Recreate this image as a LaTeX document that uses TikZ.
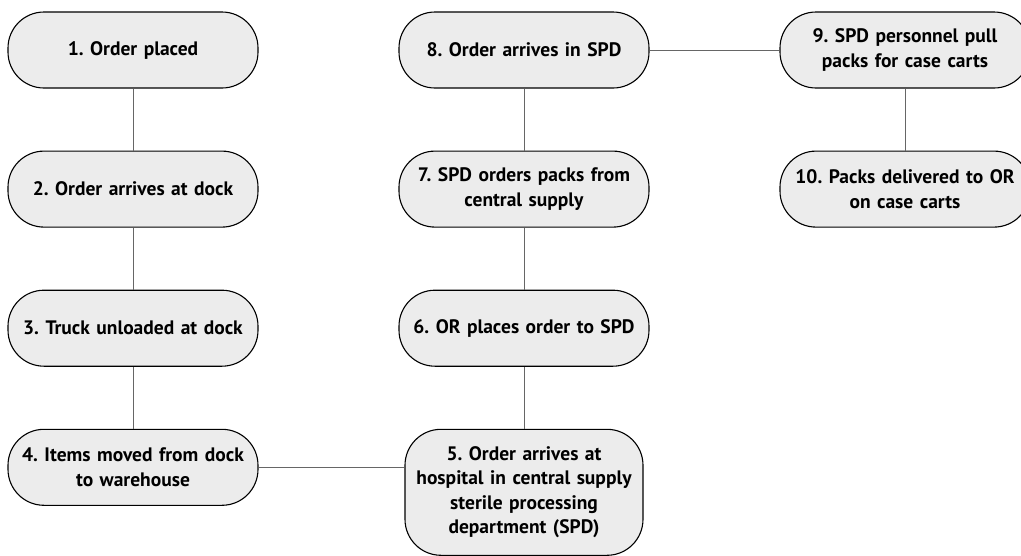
\documentclass[tikz,border=0pt]{standalone}
\usepackage{fontspec}
\setmainfont{PT Sans}
\frenchspacing
\usetikzlibrary{positioning}
\tikzset{
node distance=62pt, % gap between the boxes of one column
stepbox/.style={draw=black, line width=1.1pt, fill=gray!15, rounded corners=36pt,
  minimum width=250pt, minimum height=76pt, align=center, text width=240pt,
  font=\fontsize{19.5}{24.5}\selectfont\bfseries}, % sets the look of every box
link/.style={draw=gray!80!black, line width=0.9pt}, % the plain connectors
}
\begin{document}
\begin{tikzpicture}[x=1pt, y=-1pt]
  \useasboundingbox (0,0) rectangle (1021,555);
  \clip (0,0) rectangle (1021,555);

    \node[stepbox] (b1) at (133,50) {1. Order placed};
    \node[stepbox, below=of b1] (b2) {2. Order arrives at dock};
    \node[stepbox, below=of b2] (b3) {3. Truck unloaded at dock};
    \node[stepbox, below=of b3] (b4) {4. Items moved from dock\\to warehouse};
    \node[stepbox] (b8) at (524,50) {8. Order arrives in SPD};
    \node[stepbox, below=of b8] (b7) {7. SPD orders packs from\\central supply};
    \node[stepbox, below=of b7] (b6) {6. OR places order to SPD};
    \node[stepbox, minimum height=126pt, minimum width=238pt, text width=230pt, below=of b6] (b5)
      {5. Order arrives at\\hospital in central supply\\sterile processing\\department (SPD)};
    \node[stepbox] (b9) at (905,50) {9. SPD personnel pull\\packs for case carts};
    \node[stepbox, below=of b9] (b10) {10. Packs delivered to OR\\on case carts};

  \draw[link] (b1) -- (b2)
        (b2) -- (b3)
        (b3) -- (b4)
        (b4.east) -- (b4.east -| b5.west)
        (b5) -- (b6)
        (b6) -- (b7)
        (b7) -- (b8)
        (b8) -- (b9)
        (b9) -- (b10);

\end{tikzpicture}
\end{document}
